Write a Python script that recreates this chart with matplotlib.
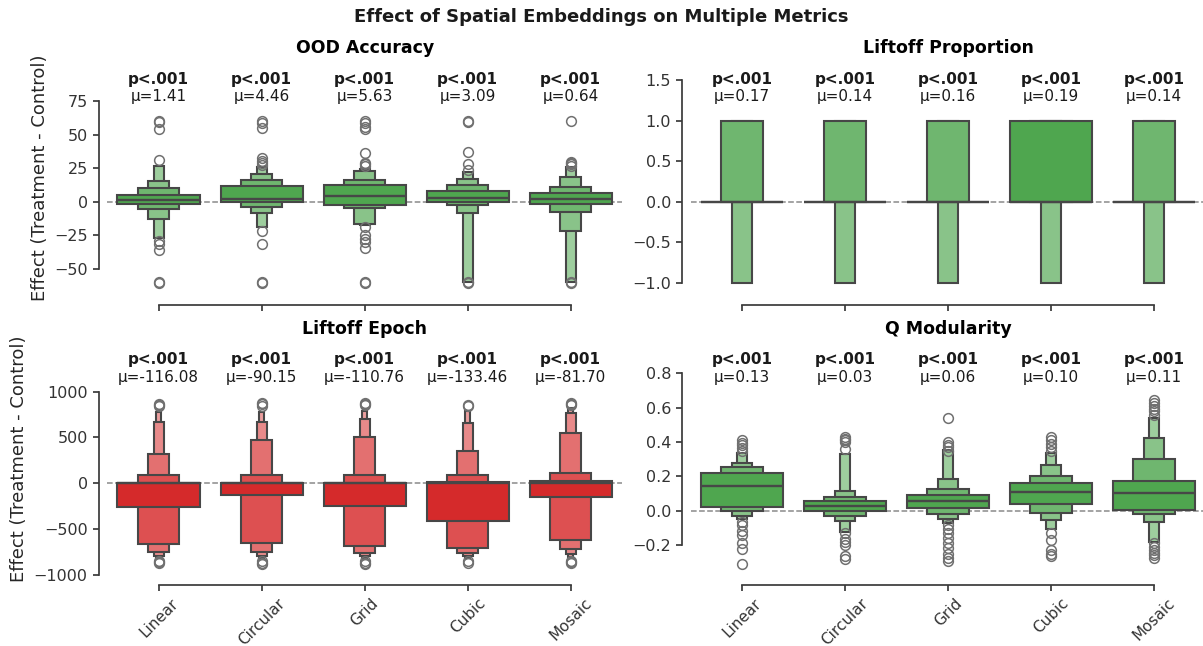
import numpy as np
import matplotlib
matplotlib.use("Agg")
import matplotlib.pyplot as plt
import matplotlib.colors as mcolors
from matplotlib.transforms import blended_transform_factory

categories = ["Linear", "Circular", "Grid", "Cubic", "Mosaic"]

# letter-value boxes: for every category the lower / upper edge of each level,
# innermost (widest) level first
ood_lo = [[-1.9, -5.6, -12.8, -27.2],
          [0.0, -4.1, -8.1, -18.5],
          [-2.4, -4.9, -16.5, -17.5],
          [0.1, -2.6, -8.1, -60.0],
          [-1.9, -7.8, -21.5, -60.0]]
ood_hi = [[4.8, 10.0, 15.2, 26.9],
          [11.8, 16.2, 20.7, 26.1],
          [12.3, 16.5, 23.2, 24.5],
          [8.3, 12.3, 17.0, 22.4],
          [6.8, 11.2, 18.7, 26.1]]
ood_med = [1.5, 2.3, 4.5, 3.1, 2.3]
ood_out = [[60.3, 59.5, 54, 31, -29, -31, -36, -59.5, -60.3],
           [60, 58.5, 55, 32.5, 30.5, 29, 27.5, -21.5, -31.5, -59.5, -60.3],
           [60, 58.5, 56, 54.5, 36.5, 29, 28, 27, -18.5, -25, -28, -30, -34.5, -59.5, -60.3],
           [60.3, 59.5, 37, 28, 24, -59.5, -60.3],
           [60, 30, 29, 28, 27, -59.5, -60.3]]
ood_mean = [1.41, 4.46, 5.63, 3.09, 0.64]

prop_lo = [[0, 0, -1], [0, 0, -1], [0, 0, -1], [0, 0, -1], [0, 0, -1]]
prop_hi = [[0, 1, 1], [0, 1, 1], [0, 1, 1], [1, 1, 1], [0, 1, 1]]
prop_med = [0, 0, 0, 0, 0]
prop_out = [[], [], [], [], []]
prop_mean = [0.17, 0.14, 0.16, 0.19, 0.14]

epoch_lo = [[-255, -662, -753, -790, -811],
            [-131, -647, -746, -790, -811],
            [-244, -684, -764, -790, -815],
            [-415, -702, -764, -790, -811],
            [-153, -622, -716, -771, -800]]
epoch_hi = [[5, 90, 320, 672, 781],
            [5, 90, 472, 672, 774],
            [0, 87, 502, 698, 792],
            [10, 87, 352, 661, 792],
            [25, 109, 545, 763, 818]]
epoch_med = [0, 0, 0, 0, 0]
epoch_out = [[840, 855, 862, -845, -860, -870],
             [845, 860, 872, -850, -865, -880],
             [850, 862, 872, -850, -868, -880],
             [840, 855, -850, -865],
             [850, 862, 872, -845, -862, -872]]
epoch_mean = [-116.08, -90.15, -110.76, -133.46, -81.70]

qmod_lo = [[0.023, 0.0, -0.031, -0.05],
           [0.0, -0.029, -0.062, -0.122],
           [0.014, -0.021, -0.05, -0.074],
           [0.039, -0.015, -0.054, -0.108],
           [0.004, -0.021, -0.066, -0.18]]
qmod_hi = [[0.218, 0.254, 0.276, 0.334],
           [0.055, 0.082, 0.115, 0.328],
           [0.091, 0.125, 0.183, 0.353],
           [0.16, 0.202, 0.268, 0.334],
           [0.175, 0.303, 0.423, 0.538]]
qmod_med = [0.146, 0.029, 0.055, 0.107, 0.101]
qmod_out = [[0.41, 0.395, 0.38, 0.365, 0.35, -0.065, -0.085, -0.12, -0.14, -0.19, -0.225, -0.31],
            [0.43, 0.42, 0.41, 0.40, 0.36, -0.13, -0.165, -0.185, -0.2, -0.265, -0.28],
            [0.54, 0.40, 0.385, 0.37, 0.35, -0.085, -0.105, -0.13, -0.16, -0.19, -0.22, -0.25, -0.275, -0.295],
            [0.43, 0.41, 0.39, 0.37, 0.35, -0.13, -0.17, -0.23, -0.25, -0.265],
            [0.645, 0.63, 0.61, 0.595, 0.58, 0.56, -0.19, -0.21, -0.23, -0.245, -0.26, -0.275]]
qmod_mean = [0.13, 0.03, 0.06, 0.10, 0.11]

GREEN = "#4fa64f"
RED = "#d52a2b"
LINE = "#474747"

plt.rcParams["font.family"] = "DejaVu Sans"
plt.rcParams["axes.edgecolor"] = "#3a3a3a"
plt.rcParams["axes.linewidth"] = 1.25
plt.rcParams["xtick.color"] = "#3a3a3a"
plt.rcParams["ytick.color"] = "#3a3a3a"
plt.rcParams["xtick.labelcolor"] = "#333333"
plt.rcParams["ytick.labelcolor"] = "#333333"

W, H = 1203, 646
fig = plt.figure(figsize=(W / 100, H / 100), dpi=100)


def px_axes(l, t, r, b):
    return fig.add_axes([l / W, 1 - b / H, (r - l) / W, (b - t) / H])


def level_color(base, i):
    rgb = np.array(mcolors.to_rgb(base))
    f = 1 - 0.82 ** i
    return rgb + (1 - rgb) * f


def boxen(ax, lo, hi, med, out, mean, color, title, ylim, yticks, p_y, labels, pad):
    x = np.arange(len(categories))
    ax.axhline(0, color="#8a8a8a", ls="--", lw=1.1, zorder=0.5)
    for j in range(len(categories)):
        k = len(lo[j])
        for i in reversed(range(k)):
            w = 0.8 * 0.5 ** i
            ax.bar(x[j], hi[j][i] - lo[j][i], bottom=lo[j][i], width=w,
                   color=level_color(color, i), edgecolor=LINE, linewidth=1.5,
                   zorder=2 + (k - i))
        ax.plot([x[j] - 0.4, x[j] + 0.4], [med[j], med[j]], color=LINE,
                lw=1.7, zorder=3 + k, solid_capstyle="butt")
        if out[j]:
            ax.plot(np.full(len(out[j]), x[j]), out[j], "o", mfc="none",
                    mec="#707070", ms=7, mew=1.1, zorder=4 + k)
    trans = blended_transform_factory(ax.transData, ax.transAxes)
    for j in range(len(categories)):
        ax.text(x[j], p_y[0], "p<.001", transform=trans, ha="center",
                va="center", fontsize=11, fontweight="bold", color="#1a1a1a")
        ax.text(x[j], p_y[1], "\u03bc=%.2f" % mean[j], transform=trans,
                ha="center", va="center", fontsize=11, color="#1a1a1a")
    ax.set_xlim(-0.5, len(categories) - 0.5)
    ax.set_ylim(*ylim)
    ax.set_yticks(yticks)
    ax.set_xticks(x)
    ax.tick_params(axis="both", labelsize=11.5, length=4.5, width=1.25)
    if labels:
        ax.set_xticklabels(categories)
        ax.tick_params(axis="x", labelrotation=45, labelsize=11, pad=3)
    else:
        ax.set_xticklabels([])
    ax.set_title(title, fontsize=12.5, fontweight="bold", pad=pad)
    for s in ["top", "right"]:
        ax.spines[s].set_visible(False)
    ax.spines["left"].set_position(("outward", 6))
    ax.spines["bottom"].set_position(("outward", 6))
    ax.spines["left"].set_bounds(yticks[0], yticks[-1])
    ax.spines["bottom"].set_bounds(x[0], x[-1])


ax1 = px_axes(107.2, 58, 622.2, 297)
ax2 = px_axes(690.5, 58, 1205.5, 297)
ax3 = px_axes(107.2, 340, 622.2, 577)
ax4 = px_axes(690.5, 340, 1205.5, 577)

boxen(ax1, ood_lo, ood_hi, ood_med, ood_out, ood_mean, GREEN, "OOD Accuracy",
      (-70.8, 107.0), [-50, -25, 0, 25, 50, 75], (0.911, 0.838), False, 3.5)
boxen(ax2, prop_lo, prop_hi, prop_med, prop_out, prop_mean, GREEN, "Liftoff Proportion",
      (-1.172, 1.771), [-1.0, -0.5, 0.0, 0.5, 1.0, 1.5], (0.911, 0.838), False, 3.5)
boxen(ax3, epoch_lo, epoch_hi, epoch_med, epoch_out, epoch_mean, RED, "Liftoff Epoch",
      (-1021.8, 1562.7), [-1000, -500, 0, 500, 1000], (0.916, 0.843), True, 4)
boxen(ax4, qmod_lo, qmod_hi, qmod_med, qmod_out, qmod_mean, GREEN, "Q Modularity",
      (-0.386, 0.994), [-0.2, 0.0, 0.2, 0.4, 0.6, 0.8], (0.916, 0.843), True, 4)

ax1.set_ylabel("Effect (Treatment - Control)", fontsize=13, color="#262626")
ax3.set_ylabel("Effect (Treatment - Control)", fontsize=13, color="#262626")

fig.suptitle("Effect of Spatial Embeddings on Multiple Metrics", fontsize=13,
             fontweight="bold", y=1 - 17 / H, va="center", color="#1a1a1a")

fig.savefig("out.png", dpi=100)
